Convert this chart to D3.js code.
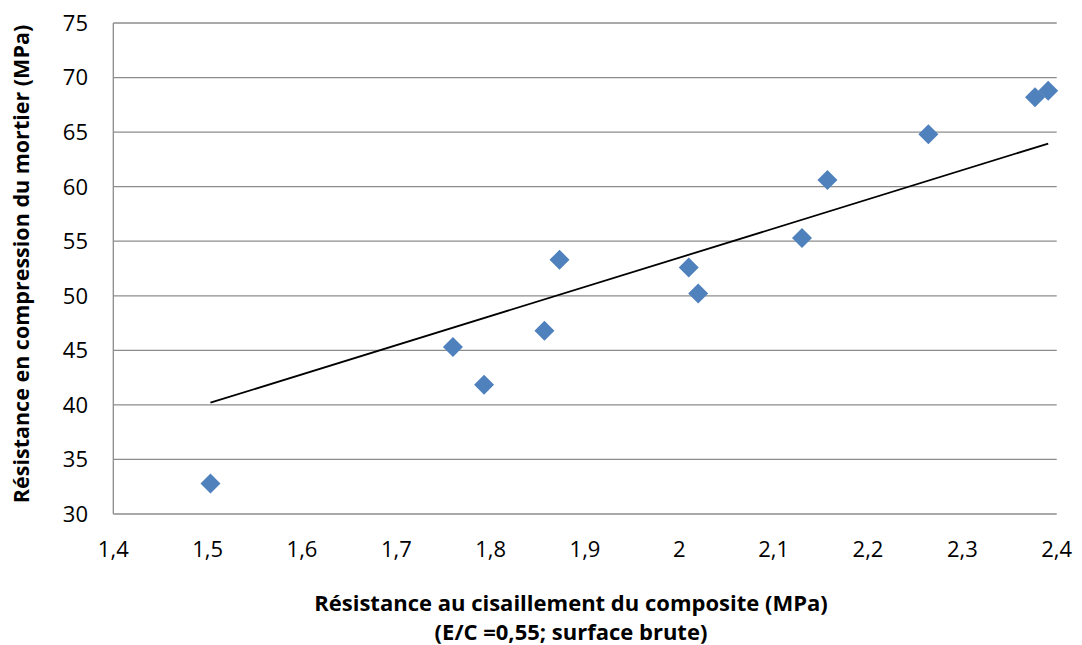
<!DOCTYPE html>
<html><head><meta charset="utf-8">
<script src="https://cdnjs.cloudflare.com/ajax/libs/d3/7.8.5/d3.min.js"></script>
<style>body{margin:0;background:#fff}svg{display:block}text{font-family:"Open Sans",sans-serif;fill:#000}</style>
</head><body><svg id="c" width="1082" height="645"></svg>
<script>
const xValues = [1.503, 1.760, 1.793, 1.857, 1.873, 2.010, 2.020, 2.130, 2.157, 2.264, 2.377, 2.391];
const yValues = [32.8, 45.3, 41.85, 46.8, 53.3, 52.6, 50.2, 55.3, 60.6, 64.8, 68.2, 68.8];
const trendX = [1.503, 2.391];
const trendY = [40.2, 63.95];
const xTicks = [1.4, 1.5, 1.6, 1.7, 1.8, 1.9, 2.0, 2.1, 2.2, 2.3, 2.4];
const yTicks = [30, 35, 40, 45, 50, 55, 60, 65, 70, 75];
const xTitle = ["Résistance au cisaillement du composite (MPa)", "(E/C =0,55; surface brute)"];
const yTitle = "Résistance en compression du mortier (MPa)";

const svg = d3.select("#c");
const L = 113.3, R = 1056.7, T = 23, B = 514;
const x = d3.scaleLinear().domain([1.4, 2.4]).range([L, R]);
const y = d3.scaleLinear().domain([30, 75]).range([B, T]);
const fmt = d => String(+d.toFixed(1)).replace(".", ",");

svg.append("g").selectAll("line").data(yTicks).join("line")
  .attr("x1", L).attr("x2", R).attr("y1", d => y(d)).attr("y2", d => y(d))
  .attr("stroke", "#8c8c8c").attr("stroke-width", 1.3);
svg.append("line").attr("x1", L).attr("x2", L).attr("y1", T).attr("y2", B)
  .attr("stroke", "#8c8c8c").attr("stroke-width", 1.3);

svg.append("g").selectAll("text").data(yTicks).join("text")
  .attr("x", 88).attr("y", d => y(d)).attr("dy", "0.36em").attr("text-anchor", "end")
  .attr("font-size", 22).text(d => d);
svg.append("g").selectAll("text").data(xTicks).join("text")
  .attr("x", d => x(d)).attr("y", 557).attr("text-anchor", "middle")
  .attr("font-size", 22).text(fmt);

svg.append("path").datum(trendX.map((d, i) => [d, trendY[i]]))
  .attr("d", d3.line().x(d => x(d[0])).y(d => y(d[1])))
  .attr("stroke", "#000").attr("stroke-width", 1.8).attr("fill", "none");

const sym = d3.symbol().type(d3.symbolSquare).size(200);
svg.append("g").selectAll("path").data(xValues.map((d, i) => [d, yValues[i]])).join("path")
  .attr("d", sym)
  .attr("transform", d => `translate(${x(d[0])},${y(d[1])}) rotate(45)`)
  .attr("fill", "#4F81BD");

svg.append("g").selectAll("text").data(xTitle).join("text")
  .attr("x", 571).attr("y", (d, i) => 611 + i * 29).attr("text-anchor", "middle")
  .attr("font-size", 22).attr("font-weight", "bold").text(d => d);
svg.append("text").attr("transform", "translate(29,264) rotate(-90)")
  .attr("text-anchor", "middle").attr("font-size", 21.5).attr("font-weight", "bold").text(yTitle);
</script></body></html>
